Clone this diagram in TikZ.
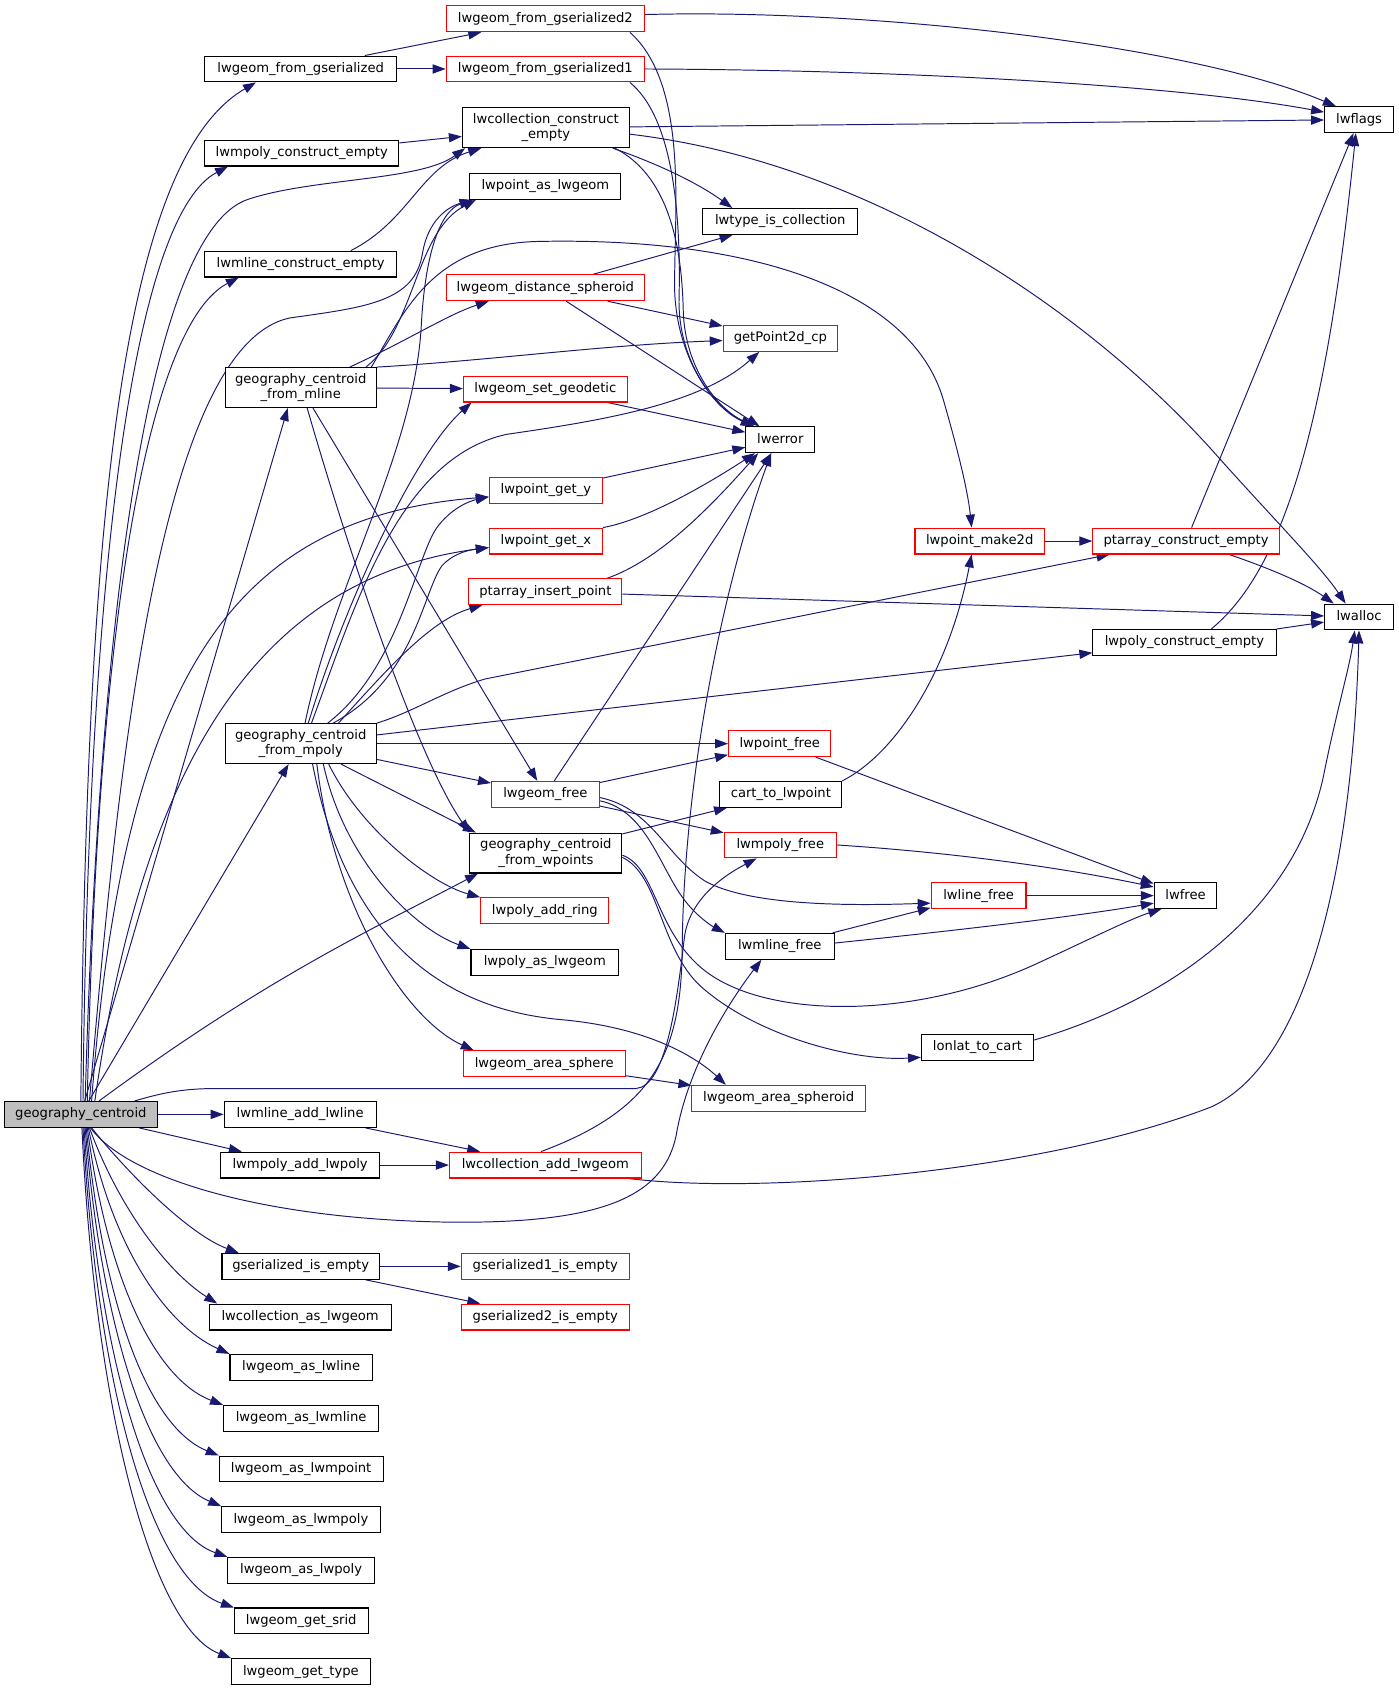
\documentclass[tikz,border=0pt]{standalone}
\usepackage{fontspec}
\setmainfont{DejaVu Sans}
\usetikzlibrary{arrows.meta}
\definecolor{ec}{HTML}{191970}
\definecolor{gfill}{HTML}{BFBFBF}
\newcommand\fn{\fontsize{12.2pt}{14pt}\selectfont}
\pgfdeclarelayer{back}
\pgfdeclarelayer{bg}
\pgfsetlayers{back,bg,main}
\begin{document}
\begin{tikzpicture}[x=1pt,y=-1pt,
  nb/.style={draw=black,line width=1pt,fill=white,inner sep=0pt,font=\fn,minimum height=24pt,text height=9.2pt,text depth=2.9pt},
  nr/.style={nb,draw=red},
  n2/.style={draw=black,line width=1pt,fill=white,inner sep=0pt,font=\fn,minimum height=37pt,align=center},
  e/.style={draw=ec,line width=0.9pt,-{Triangle[length=12pt,width=8.5pt]}}]
\useasboundingbox (0,0) rectangle (1298,1569);
\begin{pgfonlayer}{back}
\fill[white] (0,0) rectangle (1298,1569);
\end{pgfonlayer}
% nodes
\node[nb,fill=gfill,minimum width=142pt] (gc) at (75,1034) {geography\_centroid};
\node[nb,minimum width=178pt] (fromgs) at (279,64) {lwgeom\_from\_gserialized};
\node[nr,minimum width=184pt] (fromgs2) at (506,17.5) {lwgeom\_from\_gserialized2};
\node[nr,minimum width=184pt] (fromgs1) at (506,64) {lwgeom\_from\_gserialized1};
\node[nb,minimum width=180pt] (mpolyce) at (280,142) {lwmpoly\_construct\_empty};
\node[n2,minimum width=155pt] (collce) at (506.5,118.5) {lwcollection\_construct\\\_empty};
\node[nb,minimum width=140pt] (ptasgeom) at (506,173) {lwpoint\_as\_lwgeom};
\node[nb,minimum width=144pt] (typecoll) at (724,205.5) {lwtype\_is\_collection};
\node[nb,minimum width=178pt] (mlinece) at (279,245) {lwmline\_construct\_empty};
\node[nr,minimum width=184pt] (distsph) at (506,267) {lwgeom\_distance\_spheroid};
\node[nr,minimum width=106pt] (gp2d) at (724,314) {getPoint2d\_cp};
\node[n2,minimum width=140pt] (mline) at (279,359.6) {geography\_centroid\\\_from\_mline};
\node[nr,minimum width=152pt] (setgeo) at (506,361) {lwgeom\_set\_geodetic};
\node[nb,minimum width=64pt] (lwerror) at (724,408) {lwerror};
\node[nb,minimum width=64pt] (lwflags) at (1261,111) {lwflags};
\node[nr,minimum width=105pt] (gety) at (506.5,455) {lwpoint\_get\_y};
\node[nr,minimum width=105pt] (getx) at (506.5,502) {lwpoint\_get\_x};
\node[nr,minimum width=142pt] (ptins) at (506,549) {ptarray\_insert\_point};
\node[nr,minimum width=120pt] (make2d) at (909,502) {lwpoint\_make2d};
\node[nr,minimum width=173pt] (ptce) at (1100.5,502) {ptarray\_construct\_empty};
\node[nb,minimum width=64pt] (lwalloc) at (1261,572.5) {lwalloc};
\node[nb,minimum width=170pt] (polyce) at (1099,596) {lwpoly\_construct\_empty};
\node[n2,minimum width=140pt] (mpoly) at (279,690) {geography\_centroid\\\_from\_mpoly};
\node[nr,minimum width=95pt] (ptfree) at (723.5,690) {lwpoint\_free};
\node[nr,minimum width=100pt] (geomfree) at (506,737) {lwgeom\_free};
\node[nb,minimum width=113pt] (cart) at (724.5,737) {cart\_to\_lwpoint};
\node[n2,minimum width=141pt] (wpoints) at (506.5,791.5) {geography\_centroid\\\_from\_wpoints};
\node[nr,minimum width=104pt] (mpolyfree) at (724,784) {lwmpoly\_free};
\node[nr,minimum width=88pt] (linefree) at (908,831) {lwline\_free};
\node[nb,minimum width=58pt] (lwfree) at (1100,831) {lwfree};
\node[nr,minimum width=119pt] (addring) at (505.5,845) {lwpoly\_add\_ring};
\node[nb,minimum width=101pt] (mlinefree) at (723.5,878) {lwmline\_free};
\node[nb,minimum width=137pt] (polyasgeom) at (505.5,893) {lwpoly\_as\_lwgeom};
\node[nb,minimum width=104pt] (lonlat) at (907,972) {lonlat\_to\_cart};
\node[nr,minimum width=150pt] (areasph) at (505,987) {lwgeom\_area\_sphere};
\node[nr,minimum width=161pt] (areasphd) at (722.5,1019) {lwgeom\_area\_spheroid};
\node[nb,minimum width=141pt] (mlineadd) at (278.5,1034) {lwmline\_add\_lwline};
\node[nb,minimum width=147pt] (mpolyadd) at (278.5,1081) {lwmpoly\_add\_lwpoly};
\node[nr,minimum width=178pt] (colladd) at (506,1081) {lwcollection\_add\_lwgeom};
\node[nb,minimum width=146pt] (gsempty) at (279,1175) {gserialized\_is\_empty};
\node[nr,minimum width=156pt] (gs1empty) at (506,1175) {gserialized1\_is\_empty};
\node[nr,minimum width=156pt] (gs2empty) at (506,1222) {gserialized2\_is\_empty};
\node[nb,minimum width=169pt] (collasgeom) at (278.5,1222) {lwcollection\_as\_lwgeom};
\node[nb,minimum width=132pt] (asline) at (279.4,1268.7) {lwgeom\_as\_lwline};
\node[nb,minimum width=144pt] (asmline) at (279.4,1316) {lwgeom\_as\_lwmline};
\node[nb,minimum width=152pt] (asmpoint) at (279.4,1363) {lwgeom\_as\_lwmpoint};
\node[nb,minimum width=147pt] (asmpoly) at (279.2,1410) {lwgeom\_as\_lwmpoly};
\node[nb,minimum width=136pt] (aspoly) at (279.4,1457) {lwgeom\_as\_lwpoly};
\node[nb,minimum width=124pt] (srid) at (279.5,1504) {lwgeom\_get\_srid};
\node[nb,minimum width=128.6pt] (type) at (279.2,1551) {lwgeom\_get\_type};

\begin{pgfonlayer}{bg}
% top
\draw[e] ([xshift=-30]fromgs.north east) -- ([xshift=33]fromgs2.south west);
\draw[e] (fromgs) -- (fromgs1);
\draw[e] ([yshift=4]fromgs2.east) .. controls (800,8) and (1100,40) .. ([xshift=11]lwflags.north west);
\draw[e] (fromgs1.east) .. controls (850,65) and (1100,80) .. ([yshift=7]lwflags.west);
\draw[e] ([xshift=-14]fromgs2.south east) .. controls (640,80) and (625,200) .. (626,270) .. controls (628,330) and (660,378) .. ([xshift=8]lwerror.north west);
\draw[e] ([xshift=-14]fromgs1.south east) .. controls (625,110) and (632,200) .. (630,280) .. controls (630,335) and (662,378) .. ([xshift=8]lwerror.north west);
\draw[e] ([xshift=-14]collce.south east) .. controls (625,165) and (633,240) .. (634,290) .. controls (636,340) and (664,378) .. ([xshift=8]lwerror.north west);
\draw[e] (mpolyce) -- (collce);
\draw[e] ([xshift=-43]mlinece.north east) .. controls (380,205) and (390,155) .. ([xshift=18]collce.south west);
\draw[e] (collce) -- (lwflags);
\draw[e] ([xshift=-16]collce.south east) .. controls (605,150) and (645,168) .. ([xshift=28]typecoll.north west);
\draw[e] ([yshift=-6]collce.east) .. controls (800,150) and (1000,280) .. (1124,417) .. controls (1180,480) and (1225,525) .. ([xshift=20]lwalloc.north west);
\draw[e] (distsph) -- (typecoll);
\draw[e] (distsph) -- (gp2d);
\draw[e] (distsph) -- (lwerror);
% mline
\draw[e] ([xshift=-25]mline.north east) .. controls (380,315) and (415,292) .. ([xshift=40]distsph.south west);
\draw[e] ([xshift=-10]mline.north east) .. controls (385,305) and (385,215) .. ([xshift=6]ptasgeom.south west);
\draw[e] (mline.north east) .. controls (450,335) and (560,320) .. ([yshift=-2]gp2d.west);
\draw[e] (mline) -- (setgeo);
\draw[e] ([xshift=-5]mline.north east) .. controls (375,290) and (400,226) .. (500,224) .. controls (700,220) and (845,270) .. (875,370) .. controls (888,415) and (898,455) .. ([xshift=53]make2d.north west);
\draw[e] (mline) -- (geomfree);
\draw[e] ([xshift=6]mline.south) .. controls (320,500) and (385,700) .. (wpoints.north west);
% mpoly
\draw[e] ([xshift=4]mpoly.north) .. controls (310,540) and (385,420) .. (391,300) .. controls (395,230) and (410,195) .. ([xshift=3]ptasgeom.south west);
\draw[e] ([xshift=7]mpoly.north) .. controls (320,560) and (385,420) .. ([xshift=8]setgeo.south west);
\draw[e] ([xshift=10]mpoly.north) .. controls (330,560) and (370,425) .. (470,403) .. controls (560,390) and (650,375) .. ([xshift=34]gp2d.south west);
\draw[e] ([xshift=25]mpoly.north) .. controls (370,620) and (385,520) .. (405,490) .. controls (418,472) and (435,465) .. ([yshift=-6]gety.west);
\draw[e] ([xshift=30]mpoly.north) .. controls (385,630) and (392,550) .. (410,525) .. controls (422,512) and (438,510) .. ([yshift=-6]getx.west);
\draw[e] ([xshift=35]mpoly.north) .. controls (360,620) and (400,575) .. ([xshift=13]ptins.south west);
\draw[e] (mpoly.north east) .. controls (385,660) and (410,642) .. (450,630) -- ([xshift=16]ptce.south west);
\draw[e] (mpoly) -- (polyce);
\draw[e] (mpoly) -- (ptfree);
\draw[e] (mpoly) -- (geomfree);
\draw[e] (mpoly) -- ([xshift=6]wpoints.north west);
\draw[e] ([xshift=26]mpoly.south) .. controls (335,770) and (400,820) .. (addring.north west);
\draw[e] ([xshift=21]mpoly.south) .. controls (320,800) and (385,862) .. (polyasgeom.north west);
\draw[e] ([xshift=15]mpoly.south) .. controls (310,840) and (375,945) .. ([xshift=10]areasph.north west);
\draw[e] ([xshift=11]mpoly.south) .. controls (320,860) and (400,935) .. (520,946) .. controls (600,953) and (645,980) .. ([xshift=32]areasphd.north west);
% wpoints
\draw[e] (wpoints) -- (cart);
\draw[e] ([yshift=-4]wpoints.east) .. controls (612,812) and (612,880) .. (650,915) .. controls (700,960) and (790,985) .. ([yshift=-9]lonlat.west);
\draw[e] ([yshift=-2]wpoints.east) .. controls (610,805) and (608,870) .. (660,905) .. controls (720,945) and (850,945) .. (960,895) .. controls (1010,872) and (1050,852) .. ([xshift=7]lwfree.south west);
% geomfree
\draw[e] (geomfree) -- (lwerror);
\draw[e] (geomfree) -- (ptfree);
\draw[e] (geomfree) -- (mpolyfree);
\draw[e] ([yshift=-3]geomfree.east) .. controls (605,750) and (618,795) .. (655,818) .. controls (700,842) and (800,840) .. ([yshift=-7]linefree.west);
\draw[e] ([yshift=-6]geomfree.east) .. controls (600,752) and (612,805) .. (635,835) .. controls (648,852) and (662,860) .. (mlinefree.north west);
% into lwerror
\draw[e] ([xshift=-14]ptins.north east) .. controls (610,520) and (655,475) .. ([xshift=12]lwerror.south west);
\draw[e] (ptins) -- (lwalloc);
\draw[e] (gety) -- (lwerror);
\draw[e] (getx.north east) .. controls (600,482) and (655,450) .. ([xshift=9]lwerror.south west);
\draw[e] (setgeo) -- (lwerror);
\draw[e] ([xshift=-4]colladd.north) .. controls (605,1030) and (632,980) .. (633,880) .. controls (634,740) and (665,560) .. ([xshift=24]lwerror.south west);
\draw[e] ([xshift=-12]colladd.south east) .. controls (700,1108) and (960,1090) .. (1124,1027) .. controls (1215,985) and (1255,800) .. (lwalloc.south);
\draw[e] ([yshift=7]lonlat.east) .. controls (1080,930) and (1200,850) .. (1228,720) .. controls (1240,660) and (1252,620) .. ([xshift=-4]lwalloc.south);
\draw[e] (mlineadd) -- (colladd);
\draw[e] (mpolyadd) -- (colladd);
\draw[e] (gsempty) -- (gs1empty);
\draw[e] (gsempty) -- (gs2empty);
\draw[e] (areasph) -- (areasphd);
% right part
\draw[e] (make2d) -- (ptce);
\draw[e] (cart.north east) .. controls (830,700) and (880,625) .. ([xshift=53]make2d.south west);
\draw[e] (ptce) -- (lwflags);
\draw[e] ([xshift=-47]ptce.south east) .. controls (1180,528) and (1212,542) .. ([xshift=9]lwalloc.north west);
\draw[e] ([xshift=25]polyce.north) .. controls (1195,525) and (1232,380) .. ([xshift=-3]lwflags.south);
\draw[e] (polyce) -- (lwalloc);
\draw[e] (ptfree) -- (lwfree);
\draw[e] (mpolyfree.east) .. controls (900,792) and (1000,808) .. ([yshift=8]lwfree.west);
\draw[e] (linefree) -- (lwfree);
\draw[e] (mlinefree) -- (linefree);
\draw[e] ([yshift=3]mlinefree.east) .. controls (900,862) and (1000,850) .. ([yshift=-7]lwfree.west);
% gc top
\draw[e] (gc.north) .. controls (80,500) and (110,150) .. ([xshift=48]fromgs.south west);
\draw[e] ([xshift=2]gc.north) .. controls (82,520) and (125,200) .. ([xshift=22]mpolyce.south west);
\draw[e] ([xshift=4]gc.north) .. controls (92,560) and (140,215) .. (230,185) .. controls (290,165) and (390,168) .. ([xshift=3]collce.south west);
\draw[e] ([xshift=6]gc.north) .. controls (90,560) and (140,300) .. ([xshift=32]mlinece.south west);
\draw[e] ([xshift=8]gc.north) .. controls (110,700) and (150,320) .. (269,295) .. controls (340,285) and (385,280) .. (392,235) .. controls (397,205) and (415,192) .. ([xshift=3]ptasgeom.south west);
\draw[e] (gc) -- ([xshift=-12]mline.south);
\draw[e] ([xshift=10]gc.north) .. controls (115,620) and (220,480) .. ([yshift=-6]gety.west);
\draw[e] ([xshift=13]gc.north) .. controls (135,690) and (250,535) .. ([yshift=-6]getx.west);
\draw[e] (gc) -- (mpoly);
\draw[e] (gc) .. controls (250,905) and (350,860) .. ([xshift=8]wpoints.south west);
\draw[e] (gc) -- (mlineadd);
\draw[e] (gc) -- (mpolyadd);
\draw[e] ([xshift=50]gc.north) .. controls (150,1014) and (170,1010) .. (200,1010) -- (590,1010) .. controls (618,1008) and (628,930) .. (635,870) .. controls (640,830) and (680,808) .. ([xshift=-22]mpolyfree.south);
\draw[e] ([xshift=9]gc.south) .. controls (120,1095) and (250,1132) .. (420,1134) .. controls (560,1135) and (618,1110) .. (628,1050) .. controls (640,985) and (680,925) .. ([xshift=-17]mlinefree.south);
% gc bottom fan
\draw[e] ([xshift=10]gc.south) .. controls (120,1090) and (175,1145) .. ([xshift=16]gsempty.north west);
\draw[e] ([xshift=8]gc.south) .. controls (110,1120) and (155,1180) .. ([xshift=8]collasgeom.north west);
\draw[e] ([xshift=7]gc.south) .. controls (105,1160) and (155,1230) .. (asline.north west);
\draw[e] ([xshift=6]gc.south) .. controls (100,1190) and (145,1280) .. (asmline.north west);
\draw[e] ([xshift=5]gc.south) .. controls (97,1220) and (140,1325) .. (asmpoint.north west);
\draw[e] ([xshift=4]gc.south) .. controls (95,1240) and (140,1370) .. (asmpoly.north west);
\draw[e] ([xshift=3]gc.south) .. controls (92,1265) and (140,1420) .. (aspoly.north west);
\draw[e] ([xshift=2]gc.south) .. controls (90,1285) and (140,1465) .. (srid.north west);
\draw[e] ([xshift=1]gc.south) .. controls (88,1305) and (140,1510) .. (type.north west);
\end{pgfonlayer}
\end{tikzpicture}
\end{document}
